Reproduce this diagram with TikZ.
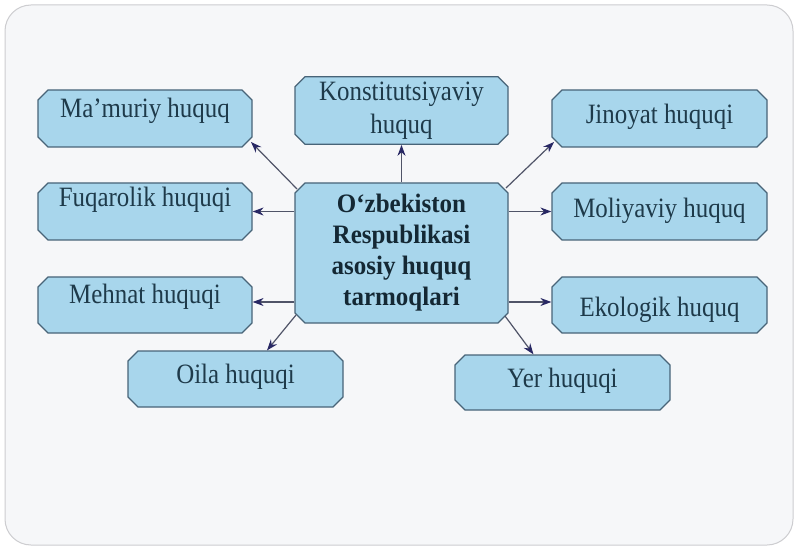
\documentclass[tikz,border=0pt]{standalone}
\usepackage{fontspec}
\setmainfont{Liberation Serif}[FakeStretch=0.89]
\newfontfamily\ctrfont{Liberation Serif}[FakeStretch=0.94]
\usetikzlibrary{shapes.misc,arrows.meta}
\definecolor{boxfill}{RGB}{168,214,236}
\definecolor{boxline}{RGB}{72,100,120}
\definecolor{txtc}{RGB}{30,58,74}
\definecolor{ctrtxt}{RGB}{20,40,52}
\definecolor{linec}{RGB}{80,84,104}
\definecolor{tipc}{RGB}{40,40,100}
\definecolor{framebg}{RGB}{246,247,249}
\definecolor{framec}{RGB}{205,205,208}
\tikzset{
  box/.style={chamfered rectangle, chamfered rectangle xsep=5pt,
    chamfered rectangle ysep=5pt, draw=boxline, line width=1.2pt,
    fill=boxfill, inner xsep=0pt, inner ysep=0pt,
    minimum width=214pt, minimum height=57pt,
    font=\fontsize{28}{33}\selectfont, text=txtc},
  arr/.style={draw=linec, line width=1.2pt,
    -{Stealth[length=11pt,width=8pt,color=tipc]}}
}
\begin{document}
\begin{tikzpicture}[x=1pt,y=-1pt]
\useasboundingbox (0,0) rectangle (800,553);
\fill[white] (0,0) rectangle (800,553);
\draw[framec, fill=framebg, line width=1pt, rounded corners=26pt] (5,5) rectangle (793,545);

\node[box, text height=18.8pt, text depth=21.2pt] (mam) at (145,118.5) {Ma’muriy huquq};
\node[box, minimum width=213pt, minimum height=67pt, align=center] (kon) at (401.5,110.5) {Konstitutsiyaviy\\huquq};
\node[box, minimum width=215pt, text height=25.5pt, text depth=14.5pt] (jin) at (659.5,118.5) {Jinoyat huquqi};
\node[box, text height=15pt, text depth=25pt] (fuq) at (145,211.5) {Fuqarolik huquqi};
\node[box, minimum width=213pt, minimum height=140pt, align=center,
  font=\ctrfont\bfseries\fontsize{26.6}{31}\selectfont, text=ctrtxt] (ctr) at (401.5,253)
  {O‘zbekiston\\Respublikasi\\asosiy huquq\\tarmoqlari};
\node[box, minimum width=215pt, text height=26pt, text depth=14pt] (mol) at (659.5,211.5) {Moliyaviy huquq};
\node[box, minimum height=56pt, text height=18.3pt, text depth=21.7pt] (meh) at (145,305) {Mehnat huquqi};
\node[box, minimum width=215pt, minimum height=56pt, text height=31pt, text depth=9pt] (eko) at (659.5,305) {Ekologik huquq};
\node[box, minimum width=215pt, minimum height=56pt, text height=24.3pt, text depth=15.7pt] (oil) at (235.5,379) {Oila huquqi};
\node[box, minimum width=215pt, minimum height=55pt, text height=24.8pt, text depth=15.2pt] (yer) at (562.5,382.5) {Yer huquqi};

\draw[arr] ([shift={(-104.5,-64)}]ctr.center) -- ([shift={(106,23.5)}]mam.center);
\draw[arr] (ctr.north) -- (kon.south);
\draw[arr] ([shift={(104.5,-65)}]ctr.center) -- ([shift={(-105.5,23.5)}]jin.center);
\draw[arr] (ctr.west |- fuq.east) -- (fuq.east);
\draw[arr] (ctr.east |- mol.west) -- (mol.west);
\draw[arr] ([shift={(0,-3)}]ctr.west |- meh.east) -- ([shift={(0,-3)}]meh.east);
\draw[arr] ([shift={(0,-3)}]ctr.east |- eko.west) -- ([shift={(0,-3)}]eko.west);
\draw[arr] ([shift={(-105.5,62)}]ctr.center) -- ([shift={(31.5,0)}]oil.north);
\draw[arr] ([shift={(103.5,63)}]ctr.center) -- ([shift={(-29,0)}]yer.north);
\end{tikzpicture}
\end{document}
